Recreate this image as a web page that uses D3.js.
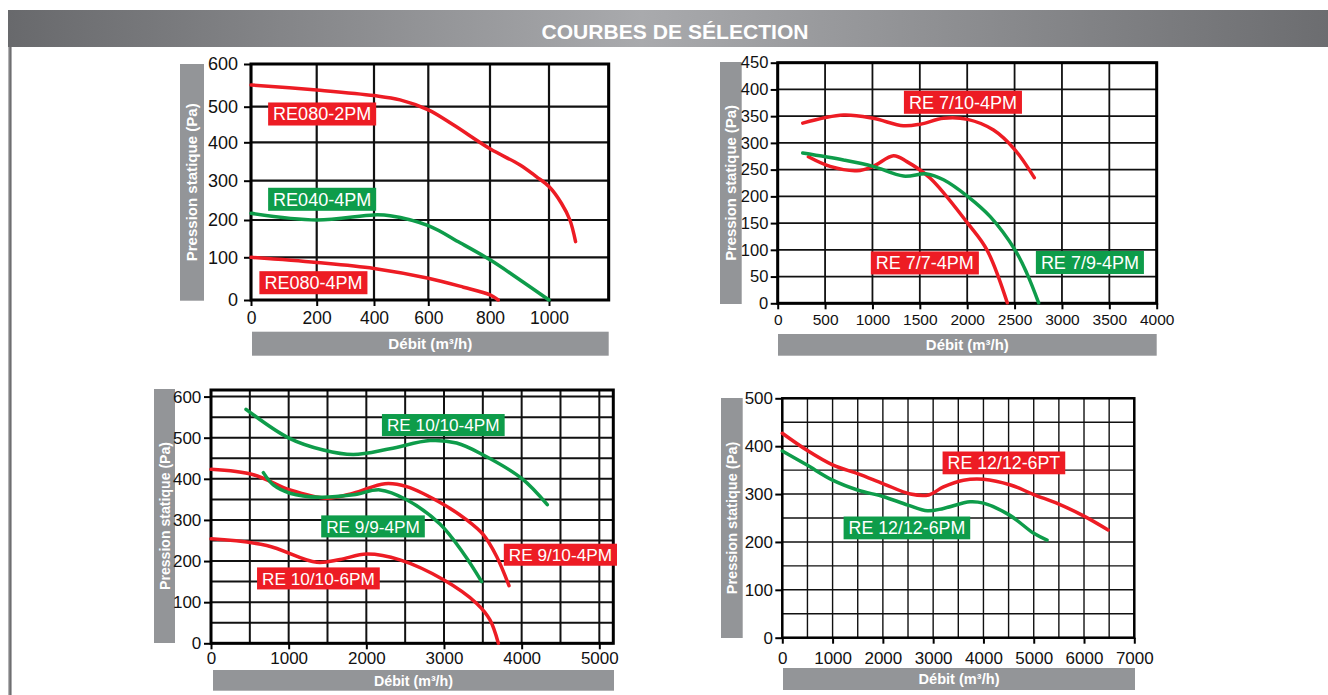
<!DOCTYPE html>
<html>
<head>
<meta charset="utf-8">
<script src="https://cdn.jsdelivr.net/npm/d3@7.9.0/dist/d3.min.js"></script>
<style>
  body { margin: 0; background: #fff; }
  svg { display: block; }
</style>
</head>
<body>
<svg id="page" width="1328" height="695"></svg>
<script>
// ---------------- data (m3/h, Pa) ----------------
const ticks1X = [0, 200, 400, 600, 800, 1000];
const ticks1Y = [0, 100, 200, 300, 400, 500, 600];
const re080_2pm = [[0,551],[200,539],[400,526],[496,516],[600,491],[681,449],[800,383],[902,341],[958,310],[1000,285],[1042,242],[1070,200],[1089,142]];
const re040_4pm = [[0,217],[200,200],[400,213],[459,211],[600,185],[703,139],[800,94],[902,47],[1000,0]];
const re080_4pm = [[0,100],[200,88],[400,74],[600,51],[714,30],[800,12],[828,0]];

const ticks2X = [0, 500, 1000, 1500, 2000, 2500, 3000, 3500, 4000];
const ticks2Y = [0, 50, 100, 150, 200, 250, 300, 350, 400, 450];
const re7_10_4pm = [[264,337],[694,352],[1007,346],[1327,332],[1504,335],[1750,346],[2004,344],[2278,324],[2504,287],[2708,235]];
const re7_7_4pm = [[324,274],[553,256],[835,248],[1007,256],[1222,276],[1363,265],[1610,234],[2004,150],[2208,100],[2423,1]];
const re7_9_4pm = [[264,281],[694,268],[1007,256],[1327,238],[1574,242],[1750,231],[2004,200],[2243,162],[2504,100],[2630,56],[2754,1]];

const ticks3X = [0, 1000, 2000, 3000, 4000, 5000];
const ticks3Y = [0, 100, 200, 300, 400, 500, 600];
const re10_10_4pm = [[451,569],[1004,499],[1446,470],[1833,459],[2305,473],[2820,493],[3163,487],[3506,458],[4000,401],[4330,337]];
const re9_10_4pm = [[0,423],[545,410],[1017,373],[1489,353],[1833,365],[2240,388],[2519,381],[3000,337],[3292,300],[3506,264],[3678,211],[3837,140]];
const re9_9_4pm = [[674,415],[803,385],[1017,365],[1403,355],[1833,361],[2176,373],[2519,349],[2948,290],[3249,219],[3485,150]];
const re10_10_6pm = [[0,254],[717,238],[1361,197],[1661,204],[2004,217],[2433,203],[3000,154],[3421,97],[3592,57],[3700,0]];

const ticks4X = [0, 1000, 2000, 3000, 4000, 5000, 6000, 7000];
const ticks4Y = [0, 100, 200, 300, 400, 500];
const re12_12_6pt = [[0,427],[483,392],[1000,361],[1510,342],[2000,322],[2550,300],[2910,298],[3205,315],[3603,329],[4000,331],[4540,319],[5000,299],[5500,279],[6000,254],[6480,225]];
const re12_12_6pm = [[0,390],[483,361],[1000,329],[1510,308],[2000,295],[2497,277],[2887,265],[3205,270],[3735,284],[4000,281],[4520,256],[5000,218],[5265,204]];

// ---------------- layout ----------------
const RED = "#ed1c24", GREEN = "#0e9c4a", GREY = "#939598";
const TICK_FONT = "'Liberation Sans Narrow', 'Arial Narrow', 'Liberation Sans', Arial, sans-serif";
const SANS = "'Liberation Sans', Arial, sans-serif";

const charts = [
  {
    xDomain: [0,200,400,600,800,1000,1200], xRange: [251,316.7,374,428.3,490,549,608.7],
    yDomain: [0,100,200,300,400,500,600], yRange: [300,257.3,220,180.7,142.3,106.7,64],
    gridX: [0,200,400,600,800,1000,1200], gridY: ticks1Y,
    ticksX: ticks1X, ticksY: ticks1Y, fontY: 18, fontX: 17.5, padY: 6, padX: 6,
    gridW: 2.2, frameW: 3,
    yBox: [180,64,24,236.7], yLen: 158, xBox: [252,331.7,356.7,24], xLen: 84,
    labelFont: 18,
    series: [
      { data: re080_2pm, color: RED, label: "RE080-2PM", at: [219,479.5] },
      { data: re040_4pm, color: GREEN, label: "RE040-4PM", at: [219,252.7] },
      { data: re080_4pm, color: RED, label: "RE080-4PM", at: [190,40.5] }
    ]
  },
  {
    xDomain: [0,4000], xRange: [777.7,1156.7], yDomain: [0,450], yRange: [303.3,62.7],
    gridX: d3.range(0,4001,500), gridY: d3.range(0,451,50),
    ticksX: ticks2X, ticksY: ticks2Y, fontY: 16.5, fontX: 15.5, padY: 2.4, padX: 4.7,
    gridW: 1.8, frameW: 3,
    yBox: [720,62,21.7,242], yLen: 155.7, xBox: [778,334,378.7,21.7], xLen: 83,
    labelFont: 18,
    series: [
      { data: re7_10_4pm, color: RED, label: "RE 7/10-4PM", at: [1955,376] },
      { data: re7_7_4pm, color: RED, label: "RE 7/7-4PM", at: [1553,75.5] },
      { data: re7_9_4pm, color: GREEN, label: "RE 7/9-4PM", at: [3295,76.3] }
    ]
  },
  {
    xDomain: [0,5180], xRange: [211,613.3], yDomain: [0,616], yRange: [643.3,390],
    gridX: d3.range(0,5001,500), gridY: d3.range(0,601,50),
    ticksX: ticks3X, ticksY: ticks3Y, fontY: 17, fontX: 17, padY: 2.7, padX: 2.4,
    gridW: 2, frameW: 3,
    yBox: [154,389,21,254], yLen: 148, xBox: [213,670,401,20.7], xLen: 79,
    labelFont: 17.2,
    series: [
      { data: re10_10_4pm, color: GREEN, label: "RE 10/10-4PM", at: [2991,530.8] },
      { data: re9_10_4pm, color: RED, label: "RE 9/10-4PM", at: [4499,215.4] },
      { data: re9_9_4pm, color: GREEN, label: "RE 9/9-4PM", at: [2086,284.3] },
      { data: re10_10_6pm, color: RED, label: "RE 10/10-6PM", at: [1383,157.8] }
    ]
  },
  {
    xDomain: [0,7000], xRange: [782.3,1134.3], yDomain: [0,500], yRange: [637.7,398.3],
    gridX: d3.range(0,7001,500), gridY: d3.range(0,501,50),
    ticksX: ticks4X, ticksY: ticks4Y, fontY: 17, fontX: 17, padY: 2.3, padX: 8,
    gridW: 1.4, frameW: 2.5,
    yBox: [721,398,21.7,240], yLen: 152.6, xBox: [783,668,352,22], xLen: 81,
    labelFont: 17.8,
    series: [
      { data: re12_12_6pt, color: RED, label: "RE 12/12-6PT", at: [4407,365.1] },
      { data: re12_12_6pm, color: GREEN, label: "RE 12/12-6PM", at: [2478,229.3] }
    ]
  }
];

const svg = d3.select("#page");

// ---------------- header ----------------
const defs = svg.append("defs");
const grad = defs.append("linearGradient").attr("id", "hdr");
grad.append("stop").attr("offset", "0%").attr("stop-color", "#68696c");
grad.append("stop").attr("offset", "48%").attr("stop-color", "#a9aaad");
grad.append("stop").attr("offset", "100%").attr("stop-color", "#6c6d70");

svg.append("rect").attr("x", 8).attr("y", 10).attr("width", 1320).attr("height", 37).attr("fill", "url(#hdr)");
svg.append("text")
  .attr("x", 675).attr("y", 38.5)
  .attr("text-anchor", "middle")
  .attr("fill", "#fff").attr("font-family", SANS).attr("font-weight", "bold").attr("font-size", 20)
  .attr("textLength", 267).attr("lengthAdjust", "spacingAndGlyphs")
  .text("COURBES DE SÉLECTION");

// left border
svg.append("rect").attr("x", 8).attr("y", 47).attr("width", 4).attr("height", 648).attr("fill", "#b3b3b5");
svg.append("rect").attr("x", 9.3).attr("y", 47).attr("width", 1.8).attr("height", 648).attr("fill", "#6e6e70");

// ---------------- charts ----------------
charts.forEach(drawChart);

function drawChart(c) {
  const x = d3.scaleLinear().domain(c.xDomain).range(c.xRange);
  const y = d3.scaleLinear().domain(c.yDomain).range(c.yRange);
  const [x0, x1] = [c.xRange[0], c.xRange[c.xRange.length - 1]];
  const [y0, y1] = [c.yRange[0], c.yRange[c.yRange.length - 1]];
  const g = svg.append("g");

  // grey title boxes
  const [bx, by, bw, bh] = c.yBox;
  g.append("rect").attr("x", bx).attr("y", by).attr("width", bw).attr("height", bh).attr("fill", GREY);
  g.append("text")
    .attr("transform", `translate(${bx + bw / 2 + 5.3},${by + bh / 2}) rotate(-90)`)
    .attr("text-anchor", "middle")
    .attr("fill", "#fff").attr("font-family", SANS).attr("font-weight", "bold").attr("font-size", 15)
    .attr("textLength", c.yLen).attr("lengthAdjust", "spacingAndGlyphs")
    .text("Pression statique (Pa)");

  const [hx, hy, hw, hh] = c.xBox;
  g.append("rect").attr("x", hx).attr("y", hy).attr("width", hw).attr("height", hh).attr("fill", GREY);
  g.append("text")
    .attr("x", hx + hw / 2).attr("y", hy + hh / 2 + 5.3)
    .attr("text-anchor", "middle")
    .attr("fill", "#fff").attr("font-family", SANS).attr("font-weight", "bold").attr("font-size", 15)
    .attr("textLength", c.xLen).attr("lengthAdjust", "spacingAndGlyphs")
    .text("Débit (m³/h)");

  // grid
  g.append("g").selectAll("line").data(c.gridX).join("line")
    .attr("x1", d => x(d)).attr("x2", d => x(d)).attr("y1", y0).attr("y2", y1)
    .attr("stroke", "#111").attr("stroke-width", c.gridW);
  g.append("g").selectAll("line").data(c.gridY).join("line")
    .attr("y1", d => y(d)).attr("y2", d => y(d)).attr("x1", x0).attr("x2", x1)
    .attr("stroke", "#111").attr("stroke-width", c.gridW);

  g.append("rect")
    .attr("x", x0).attr("y", y1).attr("width", x1 - x0).attr("height", y0 - y1)
    .attr("fill", "none").attr("stroke", "#000").attr("stroke-width", c.frameW);

  // axes
  const ay = g.append("g").attr("transform", `translate(${x0},0)`)
    .call(d3.axisLeft(y).tickValues(c.ticksY).tickSize(7).tickPadding(c.padY).tickFormat(d3.format("d")));
  const ax = g.append("g").attr("transform", `translate(0,${y0})`)
    .call(d3.axisBottom(x).tickValues(c.ticksX).tickSize(6).tickPadding(c.padX).tickFormat(d3.format("d")));
  [ay, ax].forEach(a => {
    a.select(".domain").remove();
    a.selectAll(".tick line").attr("stroke", "#000").attr("stroke-width", 2);
    a.selectAll("text").attr("fill", "#111").attr("font-family", TICK_FONT);
  });
  ay.selectAll("text").attr("font-size", c.fontY);
  ax.selectAll("text").attr("font-size", c.fontX);

  // curves
  const line = d3.line().x(d => x(d[0])).y(d => y(d[1])).curve(d3.curveCatmullRom.alpha(0.5));
  g.append("g").selectAll("path").data(c.series).join("path")
    .attr("d", s => line(s.data))
    .attr("fill", "none").attr("stroke", s => s.color)
    .attr("stroke-width", 3.5).attr("stroke-linecap", "round");

  // series tags
  c.series.forEach(s => {
    const cx = x(s.at[0]), cy = y(s.at[1]);
    const tag = g.append("g");
    const box = tag.append("rect").attr("fill", s.color);
    const t = tag.append("text")
      .attr("x", cx).attr("y", cy + c.labelFont * 0.36)
      .attr("text-anchor", "middle")
      .attr("fill", "#fff").attr("font-family", SANS).attr("font-size", c.labelFont)
      .text(s.label);
    const w = t.node().getComputedTextLength() + 10;
    const h = c.labelFont * 1.28;
    box.attr("x", cx - w / 2).attr("y", cy - h / 2).attr("width", w).attr("height", h);
  });
}
</script>
</body>
</html>
